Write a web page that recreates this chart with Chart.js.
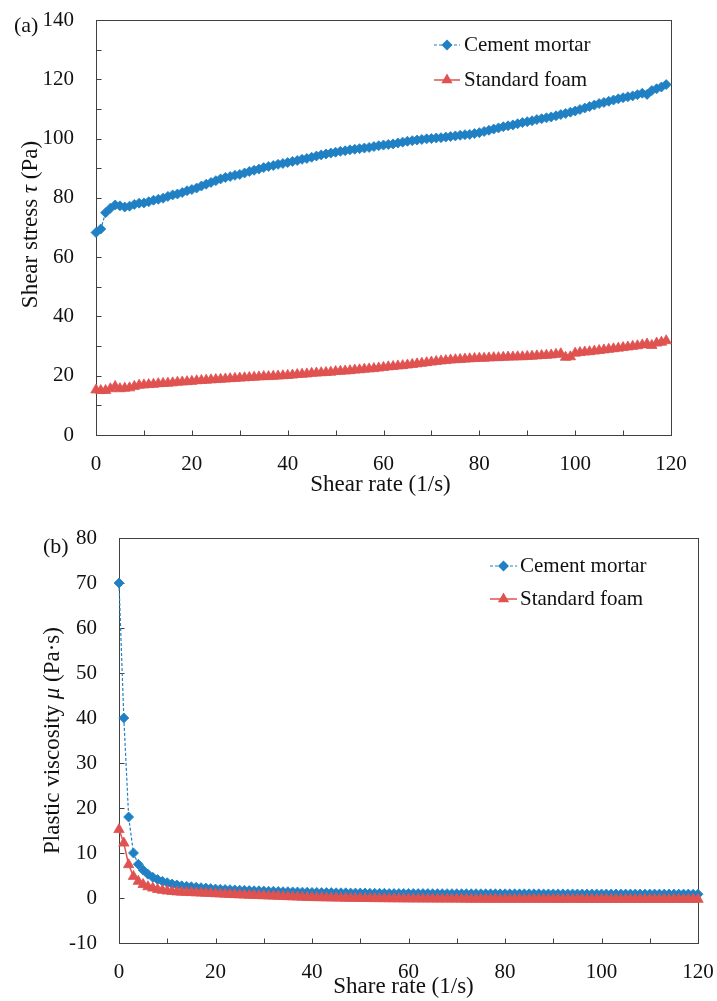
<!DOCTYPE html>
<html>
<head>
<meta charset="utf-8">
<script src="https://cdn.jsdelivr.net/npm/chart.js@4.4.1/dist/chart.umd.min.js"></script>
<style>
body { margin: 0; background: #fff; }
canvas { display: block; }
</style>
</head>
<body>
<canvas id="chart-stress" width="717" height="500"></canvas>
<canvas id="chart-viscosity" width="717" height="501"></canvas>
<script>
// shear rate (1/s)
const shearRate = [
    0, 1, 2, 3, 4, 5, 6, 7, 8, 9,
    10, 11, 12, 13, 14, 15, 16, 17, 18, 19,
    20, 21, 22, 23, 24, 25, 26, 27, 28, 29,
    30, 31, 32, 33, 34, 35, 36, 37, 38, 39,
    40, 41, 42, 43, 44, 45, 46, 47, 48, 49,
    50, 51, 52, 53, 54, 55, 56, 57, 58, 59,
    60, 61, 62, 63, 64, 65, 66, 67, 68, 69,
    70, 71, 72, 73, 74, 75, 76, 77, 78, 79,
    80, 81, 82, 83, 84, 85, 86, 87, 88, 89,
    90, 91, 92, 93, 94, 95, 96, 97, 98, 99,
    100, 101, 102, 103, 104, 105, 106, 107, 108, 109,
    110, 111, 112, 113, 114, 115, 116, 117, 118, 119,
    120
];

// (a) shear stress (Pa)
const mortarStress = [
    68.3, 69.5, 75.0, 76.5, 77.6, 77.3, 76.9, 77.2, 77.8, 78.2,
    78.3, 78.7, 79.2, 79.5, 79.9, 80.5, 81.0, 81.3, 81.8, 82.4,
    82.8, 83.3, 84.0, 84.6, 85.2, 85.8, 86.4, 86.9, 87.2, 87.6,
    87.9, 88.4, 88.9, 89.3, 89.7, 90.2, 90.6, 90.9, 91.3, 91.6,
    91.9, 92.3, 92.6, 93.0, 93.3, 93.7, 94.1, 94.5, 94.8, 95.1,
    95.4, 95.7, 95.9, 96.2, 96.4, 96.6, 96.8, 97.0, 97.3, 97.6,
    97.8, 98.0, 98.2, 98.5, 98.8, 99.1, 99.3, 99.5, 99.7, 99.9,
    100.0, 100.2, 100.3, 100.5, 100.7, 100.9, 101.1, 101.3, 101.4, 101.7,
    102.0, 102.4, 102.8, 103.2, 103.6, 104.0, 104.3, 104.6, 105.0, 105.4,
    105.7, 106.0, 106.4, 106.7, 107.0, 107.3, 107.7, 108.1, 108.5, 108.9,
    109.3, 109.8, 110.3, 110.8, 111.3, 111.8, 112.2, 112.6, 113.0, 113.4,
    113.8, 114.1, 114.4, 114.8, 115.3, 114.9, 116.2, 116.8, 117.4, 118.2
];
const foamStress = [
    15.2, 15.0, 15.0, 15.6, 16.4, 15.6, 15.8, 15.9, 16.4, 16.8,
    16.9, 17.0, 17.1, 17.3, 17.4, 17.5, 17.6, 17.8, 17.9, 18.0,
    18.1, 18.3, 18.4, 18.5, 18.6, 18.7, 18.8, 18.9, 19.0, 19.1,
    19.2, 19.3, 19.4, 19.5, 19.6, 19.7, 19.7, 19.8, 19.9, 20.0,
    20.1, 20.2, 20.4, 20.5, 20.6, 20.8, 20.9, 21.0, 21.1, 21.2,
    21.4, 21.5, 21.6, 21.7, 21.9, 22.0, 22.2, 22.3, 22.4, 22.6,
    22.8, 23.0, 23.1, 23.3, 23.4, 23.6, 23.8, 24.0, 24.2, 24.4,
    24.6, 24.8, 25.0, 25.1, 25.3, 25.4, 25.5, 25.6, 25.7, 25.8,
    25.9, 25.9, 26.0, 26.1, 26.1, 26.2, 26.3, 26.3, 26.4, 26.4,
    26.5, 26.6, 26.7, 26.8, 26.9, 27.0, 27.2, 27.4, 26.2, 26.4,
    27.6, 27.8, 28.0, 28.1, 28.3, 28.5, 28.7, 28.9, 29.1, 29.3,
    29.5, 29.7, 29.9, 30.1, 30.4, 30.7, 30.2, 31.0, 31.3, 31.8
];

// (b) plastic viscosity (Pa·s)
const mortarViscosity = [
    70, 40, 18, 10, 7.5, 6.2, 5.3, 4.6, 4.1, 3.7,
    3.4, 3.1, 2.9, 2.7, 2.6, 2.5, 2.4, 2.3, 2.2, 2.1,
    2.0, 1.95, 1.9, 1.85, 1.8, 1.75, 1.7, 1.65, 1.6, 1.6,
    1.55, 1.5, 1.5, 1.45, 1.4, 1.4, 1.35, 1.35, 1.3, 1.3,
    1.25, 1.25, 1.2, 1.2, 1.2, 1.15, 1.15, 1.15, 1.1, 1.1,
    1.1, 1.1, 1.05, 1.05, 1.05, 1.05, 1.0, 1.0, 1.0, 1.0,
    1.0, 1.0, 0.98, 0.98, 0.98, 0.97, 0.97, 0.97, 0.96, 0.96,
    0.96, 0.95, 0.95, 0.95, 0.95, 0.94, 0.94, 0.94, 0.94, 0.93,
    0.93, 0.93, 0.93, 0.92, 0.92, 0.92, 0.92, 0.92, 0.91, 0.91,
    0.91, 0.91, 0.91, 0.9, 0.9, 0.9, 0.9, 0.9, 0.9, 0.89,
    0.89, 0.89, 0.89, 0.89, 0.89, 0.88, 0.88, 0.88, 0.88, 0.88,
    0.88, 0.88, 0.87, 0.87, 0.87, 0.87, 0.87, 0.87, 0.87, 0.86,
    0.86
];
const foamViscosity = [
    15.2, 12.2, 7.4, 4.8, 3.7, 3.0, 2.5, 2.2, 1.9, 1.7,
    1.55, 1.45, 1.35, 1.3, 1.25, 1.2, 1.15, 1.1, 1.05, 1.0,
    0.95, 0.9, 0.85, 0.8, 0.75, 0.7, 0.66, 0.62, 0.58, 0.54,
    0.5, 0.46, 0.42, 0.38, 0.34, 0.3, 0.26, 0.22, 0.18, 0.14,
    0.1, 0.08, 0.06, 0.04, 0.02, 0, -0.02, -0.04, -0.06, -0.08,
    -0.1, -0.11, -0.12, -0.13, -0.14, -0.15, -0.16, -0.17, -0.18, -0.19,
    -0.2, -0.2, -0.21, -0.21, -0.22, -0.22, -0.23, -0.23, -0.23, -0.24,
    -0.24, -0.24, -0.25, -0.25, -0.25, -0.25, -0.26, -0.26, -0.26, -0.26,
    -0.27, -0.27, -0.27, -0.27, -0.28, -0.28, -0.28, -0.28, -0.28, -0.28,
    -0.29, -0.29, -0.29, -0.29, -0.29, -0.29, -0.3, -0.3, -0.3, -0.3,
    -0.3, -0.3, -0.3, -0.3, -0.3, -0.3, -0.3, -0.3, -0.3, -0.3,
    -0.3, -0.3, -0.3, -0.3, -0.3, -0.3, -0.3, -0.3, -0.3, -0.3,
    -0.3
];

// labelled ticks (other ticks stay as bare marks)
const rateLabels = [0, 20, 40, 60, 80, 100, 120];
const stressLabels = [0, 20, 40, 60, 80, 100, 120, 140];
const viscosityLabels = [-10, 0, 10, 20, 30, 40, 50, 60, 70, 80];

const seriesNames = ['Cement mortar', 'Standard foam'];

const blue = 'rgb(32, 128, 196)';
const red = 'rgb(224, 82, 80)';
const axisColor = '#404040';
const serif = '"Liberation Serif", "Times New Roman", serif';
const fontSize = 21;
const titleSize = 23;

function toPoints(values) {
    return values.map((v, i) => ({ x: shearRate[i], y: v }));
}

function drawParts(ctx, parts, size) {
    let total = 0;
    parts.forEach((p) => {
        ctx.font = `${p.italic ? 'italic ' : ''}${size}px ${serif}`;
        p.w = ctx.measureText(p.text).width;
        total += p.w;
    });
    let x = -total / 2;
    parts.forEach((p) => {
        ctx.font = `${p.italic ? 'italic ' : ''}${size}px ${serif}`;
        ctx.fillText(p.text, x, 0);
        x += p.w;
    });
}

function drawMarker(ctx, style, x, y, r) {
    ctx.beginPath();
    if (style === 'rectRot') {
        ctx.moveTo(x, y - r);
        ctx.lineTo(x + r, y);
        ctx.lineTo(x, y + r);
        ctx.lineTo(x - r, y);
    } else {
        const s = Math.sin(Math.PI / 3) * r;
        ctx.moveTo(x, y - r);
        ctx.lineTo(x + s, y + r / 2);
        ctx.lineTo(x - s, y + r / 2);
    }
    ctx.closePath();
    ctx.fill();
}

const paperDecor = {
    id: 'paperDecor',
    beforeDatasetsDraw(chart) {
        const { ctx, chartArea: a, scales } = chart;
        const left = Math.round(a.left) + 0.5;
        const bottom = Math.round(a.bottom) + 0.5;
        ctx.save();
        ctx.strokeStyle = axisColor;
        ctx.lineWidth = 1;
        ctx.strokeRect(left, Math.round(a.top) + 0.5,
            Math.round(a.right - a.left), Math.round(a.bottom - a.top));
        // inward tick marks on the left and bottom axes
        ctx.beginPath();
        scales.x.ticks.forEach((t) => {
            const px = Math.round(scales.x.getPixelForValue(t.value)) + 0.5;
            ctx.moveTo(px, bottom);
            ctx.lineTo(px, bottom - 5);
        });
        scales.y.ticks.forEach((t) => {
            const py = Math.round(scales.y.getPixelForValue(t.value)) + 0.5;
            ctx.moveTo(left, py);
            ctx.lineTo(left + 5, py);
        });
        ctx.stroke();
        ctx.restore();
    },
    afterDraw(chart, args, opts) {
        const { ctx, chartArea: a } = chart;
        ctx.save();
        ctx.fillStyle = '#111';
        ctx.textBaseline = 'middle';
        ctx.textAlign = 'left';

        ctx.save();
        ctx.translate((a.left + a.right) / 2 + opts.xTitleDx, opts.xTitleY);
        drawParts(ctx, opts.xTitle, titleSize);
        ctx.restore();

        ctx.save();
        ctx.translate(opts.yTitleX, (a.top + a.bottom) / 2 + opts.yTitleDy);
        ctx.rotate(-Math.PI / 2);
        drawParts(ctx, opts.yTitle, titleSize);
        ctx.restore();

        ctx.font = `22px ${serif}`;
        ctx.fillText(opts.panel, opts.panelX, opts.panelY);

        // legend
        const lg = opts.legend;
        chart.data.datasets.forEach((ds, i) => {
            const y = lg.rows[i];
            const mid = (lg.x0 + lg.x1) / 2;
            ctx.strokeStyle = ds.borderColor;
            ctx.lineWidth = ds.borderWidth;
            ctx.setLineDash(ds.borderDash || []);
            ctx.beginPath();
            ctx.moveTo(lg.x0, y);
            ctx.lineTo(lg.x1, y);
            ctx.stroke();
            ctx.setLineDash([]);
            ctx.fillStyle = ds.pointBackgroundColor;
            drawMarker(ctx, ds.pointStyle, mid, y, ds.pointStyle === 'rectRot' ? 5.5 : 6.5);
            ctx.fillStyle = '#111';
            ctx.font = `${fontSize}px ${serif}`;
            ctx.fillText(ds.label, lg.textX, y);
        });
        ctx.restore();
    }
};

function makeDatasets(mortar, foam) {
    return [
        {
            label: seriesNames[0],
            data: toPoints(mortar),
            borderColor: blue,
            borderWidth: 1.2,
            borderDash: [3, 2],
            pointStyle: 'rectRot',
            pointRadius: 5,
            pointBorderWidth: 0.8,
            pointBackgroundColor: blue,
            pointBorderColor: blue,
            order: 1,
            clip: false,
        },
        {
            label: seriesNames[1],
            data: toPoints(foam),
            borderColor: red,
            borderWidth: 1.5,
            pointStyle: 'triangle',
            pointRadius: 6,
            pointBorderWidth: 0.8,
            pointBackgroundColor: red,
            pointBorderColor: red,
            order: 0,
            clip: false,
        },
    ];
}

// label offset comes from an invisible tick length, so the label padding
// stays small and does not eat into the plot area
function makeAxis(min, max, labels, offset, fit) {
    return {
        type: 'linear',
        min: min,
        max: max,
        border: { display: false },
        grid: { drawOnChartArea: false, drawTicks: true, tickLength: offset, tickColor: 'rgba(0,0,0,0)' },
        ticks: {
            stepSize: 10,
            autoSkip: false,
            maxRotation: 0,
            padding: 2,
            color: '#111',
            font: { family: serif, size: fontSize },
            callback: (v) => (labels.includes(v) ? String(v) : ''),
        },
        afterFit: fit,
    };
}

function renderChart(canvasId, mortar, foam, cfg) {
    const ctx = document.getElementById(canvasId).getContext('2d');
    return new Chart(ctx, {
        type: 'line',
        data: { datasets: makeDatasets(mortar, foam) },
        options: {
            responsive: false,
            animation: false,
            events: [],
            layout: { padding: cfg.padding },
            scales: {
                x: makeAxis(0, 120, rateLabels, 15, (s) => { s.height = cfg.xHeight; }),
                y: makeAxis(cfg.yMin, cfg.yMax, cfg.yLabels, 20, (s) => { s.width = cfg.yWidth; }),
            },
            plugins: {
                legend: { display: false },
                tooltip: { enabled: false },
                paperDecor: cfg.decor,
            },
        },
        plugins: [paperDecor],
    });
}

renderChart('chart-stress', mortarStress, foamStress, {
    padding: { left: 0, top: 20, right: 46, bottom: 0 },
    xHeight: 65,
    yWidth: 96,
    yMin: 0,
    yMax: 140,
    yLabels: stressLabels,
    decor: {
        xTitle: [{ text: 'Shear rate (1/s)' }],
        xTitleDx: -3,
        xTitleY: 485,
        yTitle: [{ text: 'Shear stress ' }, { text: 'τ', italic: true }, { text: ' (Pa)' }],
        yTitleX: 31,
        yTitleDy: -3,
        panel: '(a)',
        panelX: 14,
        panelY: 26,
        legend: { x0: 434, x1: 460, textX: 464, rows: [45, 80] },
    },
});

renderChart('chart-viscosity', mortarViscosity, foamViscosity, {
    padding: { left: 0, top: 38, right: 19, bottom: 0 },
    xHeight: 58,
    yWidth: 119,
    yMin: -10,
    yMax: 80,
    yLabels: viscosityLabels,
    decor: {
        xTitle: [{ text: 'Share rate (1/s)' }],
        xTitleDx: -5,
        xTitleY: 487,
        yTitle: [{ text: 'Plastic viscosity ' }, { text: 'μ', italic: true }, { text: ' (Pa·s)' }],
        yTitleX: 53,
        yTitleDy: 0,
        panel: '(b)',
        panelX: 43,
        panelY: 47,
        legend: { x0: 490, x1: 517, textX: 520, rows: [66, 99] },
    },
});
</script>
</body>
</html>
